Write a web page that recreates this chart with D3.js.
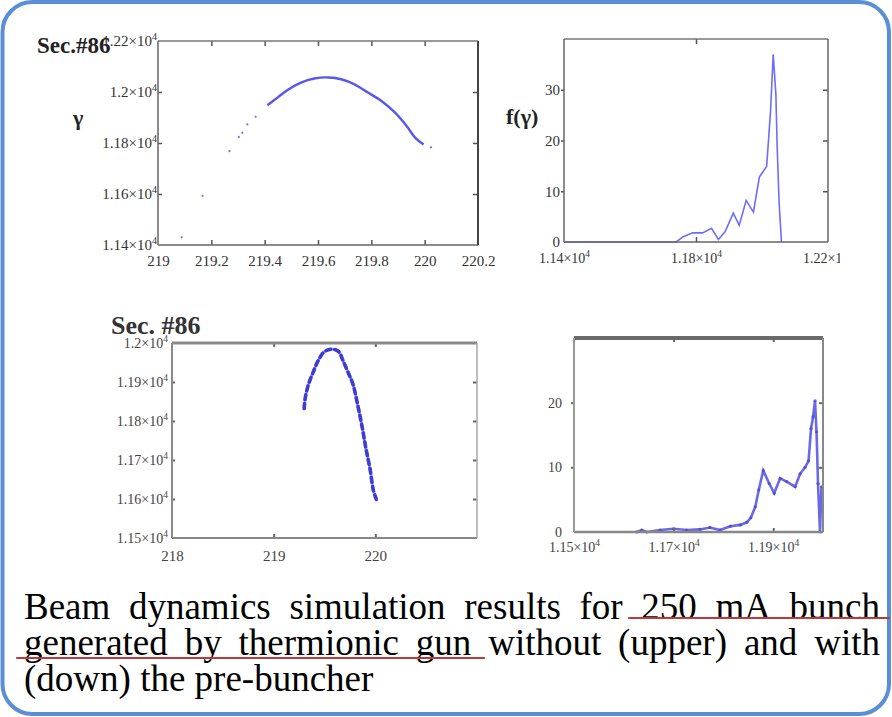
<!DOCTYPE html>
<html><head><meta charset="utf-8">
<script src="https://cdn.jsdelivr.net/npm/d3@7/dist/d3.min.js"></script>
<style>html,body{margin:0;padding:0;background:#fff;} svg{display:block}
svg text{font-family:"Liberation Serif","Times New Roman","DejaVu Serif",serif;}</style>
</head><body><svg id="c" width="892" height="717"></svg>
<script>
// ---------- DATA ----------
// Upper-left: gamma vs phase (scatter, without pre-buncher)
const ulSparseX = [219.089, 219.167, 219.268, 219.303, 219.316, 219.335, 219.366, 220.024];
const ulSparseY = [11430, 11593, 11768, 11824, 11840, 11873, 11903, 11783];
const ulCurveX = [219.41, 219.448, 219.486, 219.536, 219.586, 219.64, 219.687, 219.737, 219.787, 219.838, 219.889, 219.933, 219.965, 219.996];
const ulCurveY = [11948, 11978, 12008, 12037, 12053, 12057, 12050, 12030, 11998, 11965, 11919, 11866, 11820, 11794];
const ulXTicks = [219, 219.2, 219.4, 219.6, 219.8, 220, 220.2];
const ulXLabels = ["219", "219.2", "219.4", "219.6", "219.8", "220", "220.2"];
const ulYTicks = [11400, 11600, 11800, 12000, 12200];
const ulYLabels = ["1.14", "1.16", "1.18", "1.2", "1.22"];

// Upper-right: f(gamma) histogram line
const urX = [11400, 11740, 11760, 11790, 11820, 11847, 11868, 11888, 11913, 11931, 11952, 11974, 11992, 12014, 12019, 12026, 12034, 12038, 12042, 12046, 12052, 12059];
const urY = [0, 0, 1.0, 1.8, 1.8, 2.7, 0.5, 2.0, 5.7, 3.3, 8.2, 5.9, 12.8, 14.9, 19.4, 25.9, 37, 33, 29.2, 18.7, 7.6, 0];
const urXTicks = [11400, 11800, 12200];
const urXLabels = ["1.14", "1.18", "1.22"];
const urYTicks = [0, 10, 20, 30];
const urYLabels = ["0", "10", "20", "30"];

// Lower-left: gamma vs phase (with pre-buncher)
const llX = [219.30, 219.31, 219.34, 219.39, 219.44, 219.50, 219.58, 219.64, 219.68, 219.73, 219.78, 219.83, 219.87, 219.91, 219.95, 219.98, 220.01];
const llY = [11832, 11858, 11892, 11926, 11956, 11978, 11984, 11978, 11956, 11926, 11894, 11837, 11785, 11726, 11674, 11623, 11599];
const llXTicks = [218, 219, 220];
const llXLabels = ["218", "219", "220"];
const llYTicks = [11500, 11600, 11700, 11800, 11900, 12000];
const llYLabels = ["1.15", "1.16", "1.17", "1.18", "1.19", "1.2"];

// Lower-right: histogram with pre-buncher
const lrX = [11626, 11636, 11646, 11673, 11700, 11726, 11753, 11773, 11793, 11814, 11834, 11847, 11855, 11864, 11871, 11880, 11892, 11902, 11914, 11927, 11944, 11954, 11964, 11971, 11976, 11980, 11984, 11987, 11990, 11994, 11997];
const lrY = [0, 0.3, 0, 0.3, 0.5, 0.3, 0.4, 0.7, 0.3, 0.9, 1.1, 1.5, 2.2, 3.9, 6.5, 9.5, 7.5, 6.0, 8.3, 7.8, 7.0, 9.0, 10.0, 11, 16, 17.8, 20.3, 15.5, 7.5, 0, 7];
const lrXTicks = [11500, 11700, 11900];
const lrXLabels = ["1.15", "1.17", "1.19"];
const lrYTicks = [0, 10, 20];
const lrYLabels = ["0", "10", "20"];

const captionLines = [
  "Beam dynamics simulation results for 250 mA bunch",
  "generated by thermionic gun without (upper) and with",
  "(down) the pre-buncher"
];

// ---------- DRAWING ----------
const svg = d3.select("#c");
const defs = svg.append("defs");
defs.append("filter").attr("id", "glow").attr("x", "-5%").attr("y", "-200%").attr("width", "110%").attr("height", "500%")
  .append("feGaussianBlur").attr("stdDeviation", 2.2);
defs.append("filter").attr("id", "soft").append("feGaussianBlur").attr("stdDeviation", 0.5);

svg.append("rect").attr("x", 2.5).attr("y", 2).attr("width", 886.5).attr("height", 712).attr("rx", 30)
  .attr("fill", "#fff").attr("stroke", "#5a8fd6").attr("stroke-width", 4);

const SERIF = '"Liberation Serif","Times New Roman","DejaVu Serif",serif';

function styleLabels(sel, labels, sup, fs, color) {
  sel.attr("font-family", null);
  sel.selectAll(".tick text").each(function(d, i) {
    const t = d3.select(this);
    t.text(null).style("font-family", SERIF).attr("font-size", fs).attr("fill", color);
    t.append("tspan").text(labels[i] + (sup ? "\u00d710" : ""));
    if (sup) t.append("tspan").attr("font-size", fs * 0.68).attr("dy", -fs * 0.42).text("4");
  });
}

function plot(c) {
  const g = svg.append("g");
  const x = d3.scaleLinear().domain(c.xDomain).range([c.left, c.right]);
  const y = d3.scaleLinear().domain(c.yDomain).range([c.bottom, c.top]);

  c.draw(g, x, y);

  const tc = c.tickColor;
  const top = g.append("g").attr("transform", `translate(0,${c.top})`)
    .call(d3.axisTop(x).tickValues(c.xTicks.filter(v => v > c.xDomain[0] && v < c.xDomain[1])).tickSize(-c.tick).tickFormat(""));
  const right = g.append("g").attr("transform", `translate(${c.right},0)`)
    .call(d3.axisLeft(y).tickValues(c.yTicks.filter(v => v > c.yDomain[0] && v < c.yDomain[1])).tickSize(c.tick).tickFormat(""));
  const bottom = g.append("g").attr("transform", `translate(0,${c.bottom})`)
    .call(d3.axisBottom(x).tickValues(c.xTicks).tickSizeInner(-c.tick).tickSizeOuter(0).tickPadding(c.xPad).tickFormat((d, i) => c.xLabels[i]));
  const left = g.append("g").attr("transform", `translate(${c.left},0)`)
    .call(d3.axisLeft(y).tickValues(c.yTicks).tickSizeInner(c.yTickOut).tickSizeOuter(0).tickPadding(c.yPad).tickFormat((d, i) => c.yLabels[i]));
  [top, right, bottom, left].forEach(a => {
    a.select(".domain").remove();
    a.selectAll(".tick line").attr("stroke", tc).attr("stroke-width", c.tickW);
  });
  bottom.selectAll(".tick line").filter(d => d === c.xDomain[0] || d === c.xDomain[1]).remove();
  left.selectAll(".tick line").filter(d => d === c.yDomain[0] || d === c.yDomain[1]).remove();
  styleLabels(bottom, c.xLabels, c.xSup, c.xFs, c.labelColor);
  styleLabels(left, c.yLabels, c.ySup, c.yFs, c.labelColor);
  if (c.xClip) {
    const id = "clip" + Math.round(c.left);
    defs.append("clipPath").attr("id", id).append("rect").attr("x", 0).attr("y", 0).attr("width", c.xClip).attr("height", 717);
    svg.append("g").attr("clip-path", `url(#${id})`).node().appendChild(bottom.node());
  }

  const f = c.frame;
  const fl = (x1, y1, x2, y2, s) => g.append("line").attr("x1", x1).attr("y1", y1).attr("x2", x2).attr("y2", y2)
    .attr("stroke", s[0]).attr("stroke-width", s[1]);
  fl(c.left, c.top, c.right, c.top, f.top);
  fl(c.left, c.bottom, c.right, c.bottom, f.bottom);
  fl(c.left, c.top, c.left, c.bottom, f.left);
  fl(c.right, c.top, c.right, c.bottom, f.right);
  return g;
}

// Upper-left plot
plot({
  left: 158, right: 478, top: 41, bottom: 245,
  xDomain: [219, 220.2], yDomain: [11400, 12200],
  xTicks: ulXTicks, xLabels: ulXLabels, yTicks: ulYTicks, yLabels: ulYLabels,
  xSup: false, ySup: true, xFs: 15, yFs: 15, xPad: 10, yPad: 1, yTickOut: -4,
  tick: 5, tickW: 1.5, tickColor: "#555", labelColor: "#333",
  frame: {top: ["#777", 1.5], bottom: ["#666", 1.5], left: ["#666", 1.5], right: ["#444", 2]},
  draw: (g, x, y) => {
    const pts = ulCurveX.map((v, i) => [x(v), y(ulCurveY[i])]);
    g.append("path").attr("d", d3.line().curve(d3.curveCatmullRom)(pts))
      .attr("fill", "none").attr("stroke", "#4646ee").attr("stroke-width", 2.4).attr("opacity", 0.9);
    g.selectAll(".sp").data(ulSparseX).join("circle")
      .attr("cx", d => x(d)).attr("cy", (d, i) => y(ulSparseY[i])).attr("r", 1.1).attr("fill", "#7070f0");
  }
});

// Upper-right plot
plot({
  left: 564, right: 828, top: 39, bottom: 242,
  xDomain: [11400, 12200], yDomain: [0, 40],
  xTicks: urXTicks, xLabels: urXLabels, yTicks: urYTicks, yLabels: urYLabels,
  xSup: true, ySup: false, xFs: 14, yFs: 15, xPad: 11, yPad: 1, yTickOut: 3,
  tick: 5, tickW: 1.5, tickColor: "#555", labelColor: "#333", xClip: 840,
  frame: {top: ["#777", 1.5], bottom: ["#666", 1.5], left: ["#666", 1.5], right: ["#666", 1.5]},
  draw: (g, x, y) => {
    const pts = urX.map((v, i) => [x(v), y(urY[i])]);
    g.append("path").attr("d", d3.line()(pts))
      .attr("fill", "none").attr("stroke", "#6c6cff").attr("stroke-width", 1.6);
  }
});

// Lower-left plot
plot({
  left: 172, right: 477, top: 343, bottom: 538,
  xDomain: [218, 221], yDomain: [11500, 12000],
  xTicks: llXTicks, xLabels: llXLabels, yTicks: llYTicks, yLabels: llYLabels,
  xSup: false, ySup: true, xFs: 15, yFs: 14, xPad: 12, yPad: 4, yTickOut: -3,
  tick: 4, tickW: 2, tickColor: "#666", labelColor: "#444",
  frame: {top: ["#8a8a8a", 3], bottom: ["#888", 2], left: ["#8a8a8a", 2], right: ["#aaa", 1.5]},
  draw: (g, x, y) => {
    const pts = llX.map((v, i) => [x(v), y(llY[i])]);
    const ln = d3.line().curve(d3.curveCatmullRom)(pts);
    g.append("path").attr("d", ln).attr("fill", "none").attr("stroke", "#9c9cf0").attr("stroke-width", 3).attr("opacity", 0.8);
    g.append("path").attr("d", ln).attr("fill", "none").attr("stroke", "#3d3dd4").attr("stroke-width", 3.6)
      .attr("stroke-dasharray", "5 4").attr("stroke-linecap", "round").attr("filter", "url(#soft)");
  }
});

// Lower-right plot
plot({
  left: 574, right: 823, top: 338, bottom: 532,
  xDomain: [11500, 12000], yDomain: [0, 30],
  xTicks: lrXTicks, xLabels: lrXLabels, yTicks: lrYTicks, yLabels: lrYLabels,
  xSup: true, ySup: false, xFs: 14, yFs: 14, xPad: 10, yPad: 9, yTickOut: 3,
  tick: 4, tickW: 2, tickColor: "#666", labelColor: "#444",
  frame: {top: ["#6a6a6a", 4], bottom: ["#888", 2.5], left: ["#999", 2], right: ["#888", 2]},
  draw: (g, x, y) => {
    const pts = lrX.map((v, i) => [x(v), y(lrY[i])]);
    g.append("path").attr("d", d3.line()(pts)).attr("fill", "none").attr("stroke", "#6a6ae8")
      .attr("stroke-width", 2.6).attr("filter", "url(#soft)");
    g.selectAll(".lrp").data(pts).join("circle").attr("cx", d => d[0]).attr("cy", d => d[1])
      .attr("r", 1.6).attr("fill", "#4848cc").attr("opacity", 0.8);
  }
});

// Titles / axis names
const txt = (x, y, fs, col, s) => svg.append("text").attr("x", x).attr("y", y).style("font-family", SERIF)
  .attr("font-weight", "bold").attr("font-size", fs).attr("fill", col).text(s);
txt(37, 53, 23, "#222", "Sec.#86");
txt(73, 125, 22, "#222", "\u03b3");
txt(506, 124, 22, "#222", "f(\u03b3)");
txt(111, 334, 26, "#333", "Sec. #86");

// Caption with justified lines
const capY = [619, 655, 691];
const capFs = 37;
const capG = svg.append("g");
captionLines.forEach((line, li) => {
  const words = line.split(" ");
  const nodes = words.map(w => capG.append("text").attr("y", capY[li]).style("font-family", SERIF)
    .attr("font-size", capFs).attr("fill", "#000").text(w));
  const widths = nodes.map(n => n.node().getComputedTextLength());
  const justify = li < captionLines.length - 1;
  const gap = justify ? (880 - 24 - d3.sum(widths)) / (words.length - 1) : capFs * 0.25;
  let cx = 24;
  nodes.forEach((n, i) => { n.attr("x", cx); cx += widths[i] + gap; });
});

// red highlight underlines
const underlines = [[629, 889, 618], [17, 484, 658]];
underlines.forEach(u => {
  svg.append("line").attr("x1", u[0]).attr("x2", u[1]).attr("y1", u[2]).attr("y2", u[2])
    .attr("stroke", "#e06060").attr("stroke-width", 8).attr("opacity", 0.55).attr("filter", "url(#glow)");
  svg.append("line").attr("x1", u[0]).attr("x2", u[1]).attr("y1", u[2]).attr("y2", u[2])
    .attr("stroke", "#b83a3a").attr("stroke-width", 2.2).attr("stroke-linecap", "round");
});
</script></body></html>
